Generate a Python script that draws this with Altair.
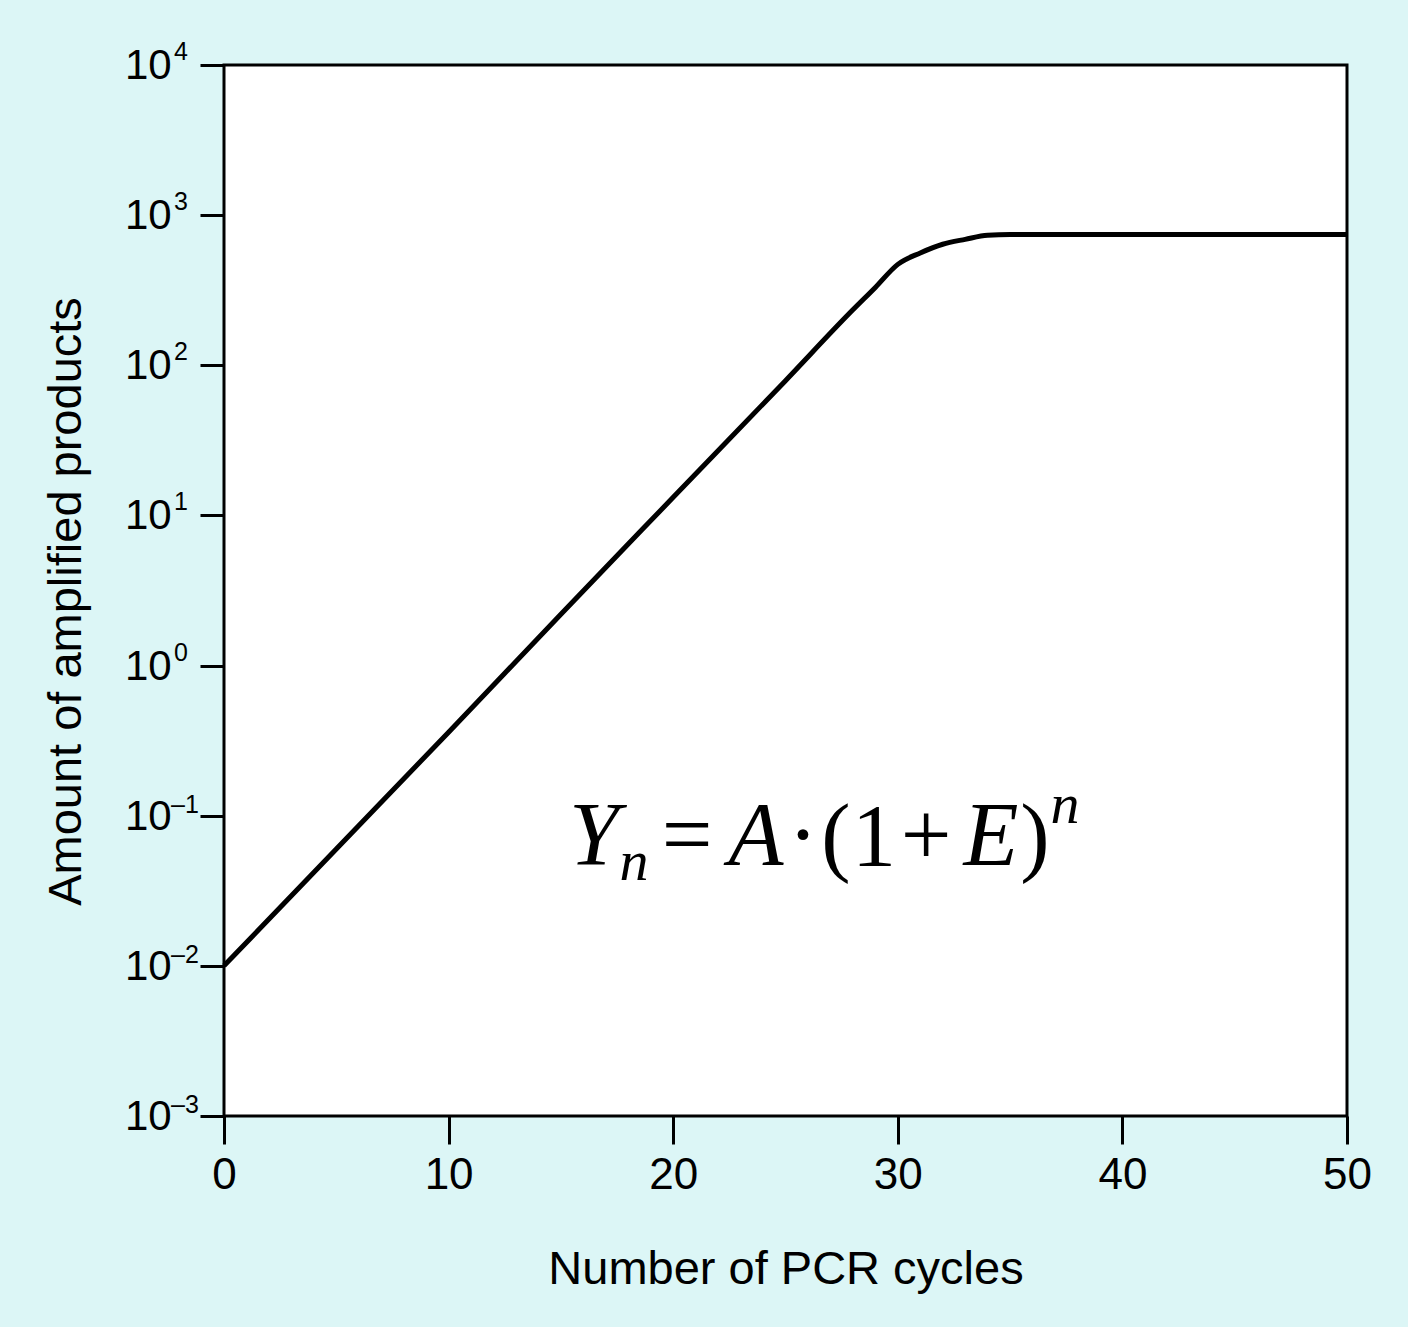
import altair as alt
import pandas as pd

# ---------------- data ----------------
cycles = [0, 5, 10, 15, 20, 25, 28, 29, 30, 31, 32, 33, 34, 35, 40, 45, 50]
amount = [0.010, 0.060, 0.36, 2.2, 13.2, 79, 234, 330, 470, 560, 640, 690, 735, 742, 742, 742, 742]
x_ticks = [0, 10, 20, 30, 40, 50]
y_exponents = [4, 3, 2, 1, 0, -1, -2, -3]
x_title = "Number of PCR cycles"
y_title = "Amount of amplified products"
formula_glyphs = ["Y", "n", "=", "A", "·", "(", "1", "+", "E", ")", "n"]

# ---------------- layout / style ----------------
W, H = 1123, 1051
LEFT, TOP = 224, 65
FONT = "Liberation Sans"
SERIF = "Liberation Serif"
BG = "#dcf6f6"

# glyph layout in page pixels: (centre x, baseline y, font size, italic)
formula_layout = [
    (594, 865, 90, True),
    (634, 880, 58, True),
    (687, 865, 90, False),
    (756, 865, 90, True),
    (803, 865, 90, False),
    (836, 865, 88, False),
    (874, 865, 88, False),
    (926, 865, 90, False),
    (991, 865, 90, True),
    (1035, 865, 88, False),
    (1065, 823, 58, True),
]

df = pd.DataFrame({"cycles": cycles, "amount": amount})
yscale = alt.Scale(type="log", domain=[1e-3, 1e4], nice=False)
xscale = alt.Scale(domain=[0, 50], nice=False, zero=False)

yaxis = alt.Axis(
    values=[10.0 ** e for e in y_exponents], tickSize=24, tickWidth=3,
    tickColor="black", domain=False, grid=False, labels=False,
    title=y_title, titleFont=FONT, titleFontSize=47, titleFontWeight="normal",
    titleColor="black", titleAngle=270, titleX=80 - LEFT, titleY=601 - TOP,
    titleAlign="center", titleBaseline="alphabetic")

line = alt.Chart(df).mark_line(
    color="black", strokeWidth=5, interpolate="monotone", strokeJoin="round"
).encode(
    x=alt.X("cycles:Q", scale=xscale, axis=alt.Axis(
        values=x_ticks, tickSize=28, tickWidth=3, tickColor="black",
        domain=False, grid=False, labelFont=FONT, labelFontSize=44,
        labelColor="black", labelPadding=9, labelFlush=False,
        title=x_title, titleFont=FONT, titleFontSize=47, titleFontWeight="normal",
        titleColor="black", titleBaseline="alphabetic", titleY=167,
        titleX=W / 2, titleAlign="center")),
    y=alt.Y("amount:Q", scale=yscale, axis=yaxis),
)

ydf = pd.DataFrame({
    "val": [10.0 ** e for e in y_exponents],
    "e": y_exponents,
    "base": ["10"] * len(y_exponents),
    "exp": [str(e).replace("-", "\u2013") for e in y_exponents],
})

ybase = alt.Chart(ydf).mark_text(
    align="left", baseline="alphabetic", dy=14, font=FONT, fontSize=42, color="black"
).encode(
    x=alt.value(125 - LEFT),
    y=alt.Y("val:Q", scale=yscale, axis=yaxis),
    text="base:N",
)
yexp_pos = alt.Chart(ydf).transform_filter("datum.e >= 0").mark_text(
    align="left", baseline="alphabetic", dy=-5, font=FONT, fontSize=25, color="black"
).encode(
    x=alt.value(174 - LEFT),
    y=alt.Y("val:Q", scale=yscale, axis=yaxis),
    text="exp:N",
)
yexp_neg = alt.Chart(ydf).transform_filter("datum.e < 0").mark_text(
    align="left", baseline="alphabetic", dy=-3, font=FONT, fontSize=25, color="black"
).encode(
    x=alt.value(171 - LEFT),
    y=alt.Y("val:Q", scale=yscale, axis=yaxis),
    text="exp:N",
)

layers = [line, ybase, yexp_pos, yexp_neg]
for g, (px, py, fs, it) in zip(formula_glyphs, formula_layout):
    gdf = pd.DataFrame({"t": [g]})
    layers.append(
        alt.Chart(gdf).mark_text(
            align="center", baseline="alphabetic", font=SERIF, fontSize=fs,
            fontStyle="italic" if it else "normal", color="black"
        ).encode(x=alt.value(px - LEFT), y=alt.value(py - TOP), text="t:N")
    )

chart = alt.layer(*layers).properties(
    width=W, height=H, background=BG,
    padding={"left": LEFT, "top": TOP, "right": 1408 - LEFT - W, "bottom": 1327 - TOP - H},
    autosize=alt.AutoSizeParams(type="none"),
).configure_view(stroke="black", strokeWidth=3, fill="white")

chart.save("out.html", embed_options={"renderer": "svg", "actions": False})
